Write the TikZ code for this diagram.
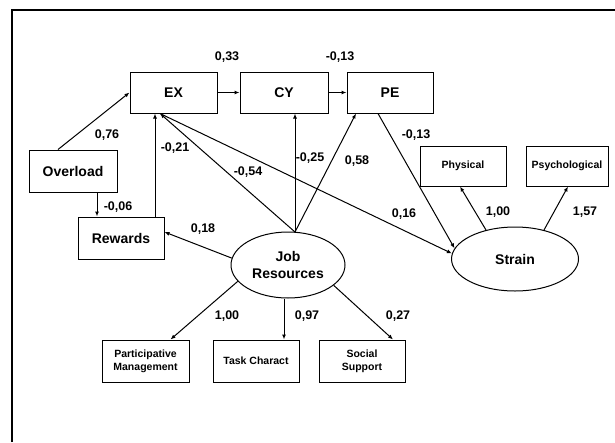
\documentclass[tikz,border=0pt]{standalone}
\usepackage{fontspec}
\setmainfont{Liberation Sans}
\usetikzlibrary{arrows.meta,shapes.geometric}
\tikzset{
  box/.style={draw,line width=1pt,rectangle,minimum width=87pt,minimum height=41pt,inner sep=1pt,font=\fontsize{14}{16}\selectfont\bfseries},
  smallbox/.style={draw,line width=1pt,rectangle,minimum width=86pt,minimum height=42pt,inner sep=1pt,align=center,font=\fontsize{10.5}{13}\selectfont\bfseries},
  latent/.style={draw,line width=1pt,ellipse,inner sep=0pt,align=center,font=\fontsize{14}{16.5}\selectfont\bfseries},
  lbl/.style={inner sep=0pt,font=\fontsize{12.5}{14}\selectfont\bfseries},
  arr/.style={line width=1pt,-{Latex[length=5pt,width=4pt]}},
  plain/.style={line width=1pt},
  frame/.style={line width=2pt}
}
\begin{document}
\begin{tikzpicture}[x=1pt,y=-1pt]
\useasboundingbox (0,0) rectangle (615,442);
% frame (cropped)
\coordinate (f1) at (12,442);
\coordinate (f2) at (12,10);
\coordinate (f3) at (615,10);
\draw[frame] (f1) -- (f2) -- (f3);

% boxes
\node[box,minimum width=87pt] (ex) at (173.5,92.5) {EX};
\node[box,minimum width=88pt] (cy) at (284,92.5) {CY};
\node[box,minimum width=86pt] (pe) at (390,92.5) {PE};
\node[box,minimum width=88pt,minimum height=42pt] (ov) at (73,171) {Overload};
\node[box,minimum width=86pt,minimum height=42pt] (rw) at (121,238) {Rewards};
\node[smallbox,minimum height=40pt] (ph) at (463,166) {Physical};
\node[smallbox,minimum width=82pt,minimum height=40pt] (ps) at (567,166) {Psychological};
\node[smallbox,minimum width=87pt] (pa) at (145.5,361) {Participative\\Management};
\node[smallbox] (tk) at (256,361) {Task Charact};
\node[smallbox] (so) at (362,361) {Social\\Support};
\node[latent,minimum width=114pt,minimum height=66pt] (jr) at (288,265) {Job\\Resources};
\node[latent,minimum width=127pt,minimum height=64pt] (st) at (515,259) {Strain};

% helper coordinates
\coordinate (jt) at (295,232);
\coordinate (exb) at ([xshift=-13.5pt]ex.south);
\coordinate (ovb) at ([xshift=24pt]ov.south);
\coordinate (rwt) at ([xshift=34pt]rw.north);
\coordinate (tkt) at ([xshift=-4pt]jr.south);

% connectors
\draw[arr] (ex) -- (cy);
\draw[arr] (cy) -- (pe);
\draw[arr] ([xshift=-15pt]ov.north) -- (ex.west);
\draw[arr] (ovb) -- (ovb |- rw.north);
\draw[arr] (rwt) -- (rwt |- ex.south);
\draw[arr] (jt) -- (exb);
\draw[arr] (exb) -- (st.175);
\draw[arr] ([xshift=-12pt]pe.south) -- (st.170);
\draw[arr] (jt) -- (jt |- cy.south);
\draw[arr] (jt) -- ([xshift=-34pt]pe.south);
\draw[arr] (jr.173) -- ([yshift=6pt]rw.east);
\draw[arr] (jr.198) -- ([xshift=25pt]pa.north);
\draw[arr] (tkt) -- (tkt |- tk.north);
\draw[arr] (jr.336) -- ([xshift=31pt]so.north);
\draw[arr] (st.135) -- ([xshift=-3pt]ph.south);
\draw[arr] (st.45) -- ([xshift=1pt]ps.south);

% labels
\node[lbl] (l1) at (227,57) {0,33};
\node[lbl] (l2) at (340,57) {-0,13};
\node[lbl] (l3) at (107,135) {0,76};
\node[lbl] (l4) at (118,207) {-0,06};
\node[lbl] (l5) at (175,148) {-0,21};
\node[lbl] (l6) at (248,172) {-0,54};
\node[lbl] (l7) at (310,158) {-0,25};
\node[lbl] (l8) at (357,161) {0,58};
\node[lbl] (l9) at (416,135) {-0,13};
\node[lbl] (l10) at (404,214) {0,16};
\node[lbl] (l11) at (498,212) {1,00};
\node[lbl] (l12) at (585,212) {1,57};
\node[lbl] (l13) at (203,229) {0,18};
\node[lbl] (l14) at (227,316) {1,00};
\node[lbl] (l15) at (307,316) {0,97};
\node[lbl] (l16) at (398,316) {0,27};
\end{tikzpicture}
\end{document}
